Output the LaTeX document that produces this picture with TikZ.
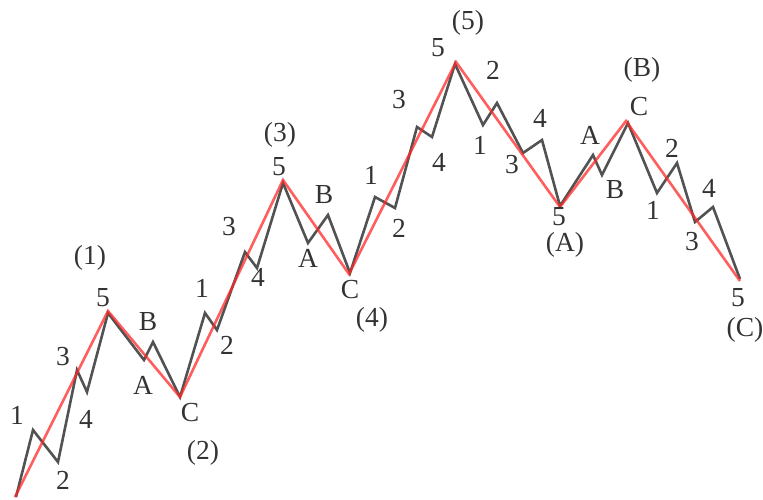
\documentclass[tikz,border=0pt]{standalone}
\usepackage{fontspec}
\setmainfont{Liberation Serif}
\begin{document}
\begin{tikzpicture}[x=1pt,y=-1pt,
  wave/.style={draw=black!68, line width=2.6pt, line join=miter},
  trend/.style={draw={rgb,255:red,255;green,40;blue,40}, line width=2.6pt, draw opacity=0.75, line join=miter},
  lbl/.style={font=\fontsize{27.5}{30}\selectfont, text=black!80, inner sep=0pt}]
\useasboundingbox (0,0) rectangle (763,499);
% black sub-wave points
\coordinate (p0) at (16,497);
\coordinate (p1) at (33,430);
\coordinate (p2) at (58,462);
\coordinate (p3) at (77,370);
\coordinate (p4) at (87,392);
\coordinate (p5) at (108,313);
\coordinate (pA) at (144,360);
\coordinate (pB) at (153,342);
\coordinate (pC) at (180,397);
\coordinate (q1) at (205,313);
\coordinate (q2) at (217,330);
\coordinate (q3) at (245,252);
\coordinate (q4) at (257,268);
\coordinate (q5) at (283,183);
\coordinate (qA) at (308,243);
\coordinate (qB) at (328,215);
\coordinate (qC) at (350,273);
\coordinate (r1) at (375,197);
\coordinate (r2) at (395,208);
\coordinate (r3) at (417,127);
\coordinate (r4) at (432,137);
\coordinate (r5) at (455,64);
\coordinate (s1) at (483,125);
\coordinate (s2) at (497,103);
\coordinate (s3) at (523,153);
\coordinate (s4) at (542,140);
\coordinate (s5) at (560,206);
\coordinate (tA) at (593,155);
\coordinate (tB) at (602,175);
\coordinate (tC) at (628,123);
\coordinate (u1) at (657,193);
\coordinate (u2) at (677,163);
\coordinate (u3) at (695,222);
\coordinate (u4) at (713,207);
\coordinate (u5) at (740,279);
% red trend points
\coordinate (R0) at (15,497);
\coordinate (R1) at (108,311);
\coordinate (R2) at (180,397);
\coordinate (R3) at (283,180);
\coordinate (R4) at (349,274);
\coordinate (R5) at (456,62);
\coordinate (RA) at (560,207);
\coordinate (RB) at (626,121);
\coordinate (RC) at (740,281);

\draw[wave] (p0) -- (p1) -- (p2) -- (p3) -- (p4) -- (p5) -- (pA) -- (pB) -- (pC)
  -- (q1) -- (q2) -- (q3) -- (q4) -- (q5) -- (qA) -- (qB) -- (qC)
  -- (r1) -- (r2) -- (r3) -- (r4) -- (r5) -- (s1) -- (s2) -- (s3) -- (s4) -- (s5)
  -- (tA) -- (tB) -- (tC) -- (u1) -- (u2) -- (u3) -- (u4) -- (u5);
\draw[trend] (R0) -- (R1) -- (R2) -- (R3) -- (R4) -- (R5) -- (RA) -- (RB) -- (RC);

% labels wave (1)
\node[lbl] (l1a) at (17,415) {1};
\node[lbl] (l2a) at (63,480) {2};
\node[lbl] (l3a) at (63,357) {3};
\node[lbl] (l4a) at (86,419) {4};
\node[lbl] (l5a) at (103,298) {5};
\node[lbl] (w1) at (90,258) {(1)};
\node[lbl] (lBa) at (148,322) {B};
\node[lbl] (lAa) at (143,385) {A};
\node[lbl] (lCa) at (190,413) {C};
\node[lbl] (w2) at (203,453) {(2)};
% wave (3)
\node[lbl] (l1b) at (202,288) {1};
\node[lbl] (l2b) at (227,345) {2};
\node[lbl] (l3b) at (229,227) {3};
\node[lbl] (l4b) at (258,277) {4};
\node[lbl] (l5b) at (279,167) {5};
\node[lbl] (w3) at (280,135) {(3)};
\node[lbl] (lBb) at (324,195) {B};
\node[lbl] (lAb) at (308,258) {A};
\node[lbl] (lCb) at (350,290) {C};
\node[lbl] (w4) at (372,320) {(4)};
% wave (5)
\node[lbl] (l1c) at (371,175) {1};
\node[lbl] (l2c) at (399,228) {2};
\node[lbl] (l3c) at (399,100) {3};
\node[lbl] (l4c) at (439,162) {4};
\node[lbl] (l5c) at (438,48) {5};
\node[lbl] (w5) at (468,23) {(5)};
% wave (A)
\node[lbl] (l2d) at (493,70) {2};
\node[lbl] (l1d) at (480,145) {1};
\node[lbl] (l3d) at (512,165) {3};
\node[lbl] (l4d) at (540,118) {4};
\node[lbl] (l5d) at (559,217) {5};
\node[lbl] (wA) at (565,245) {(A)};
% wave (B)
\node[lbl] (lAe) at (590,135) {A};
\node[lbl] (lBe) at (615,190) {B};
\node[lbl] (lCe) at (639,107) {C};
\node[lbl] (wB) at (642,70) {(B)};
% wave (C)
\node[lbl] (l1f) at (653,210) {1};
\node[lbl] (l2f) at (672,148) {2};
\node[lbl] (l3f) at (692,242) {3};
\node[lbl] (l4f) at (709,188) {4};
\node[lbl] (l5f) at (738,298) {5};
\node[lbl] (wC) at (745,330) {(C)};
\end{tikzpicture}
\end{document}
